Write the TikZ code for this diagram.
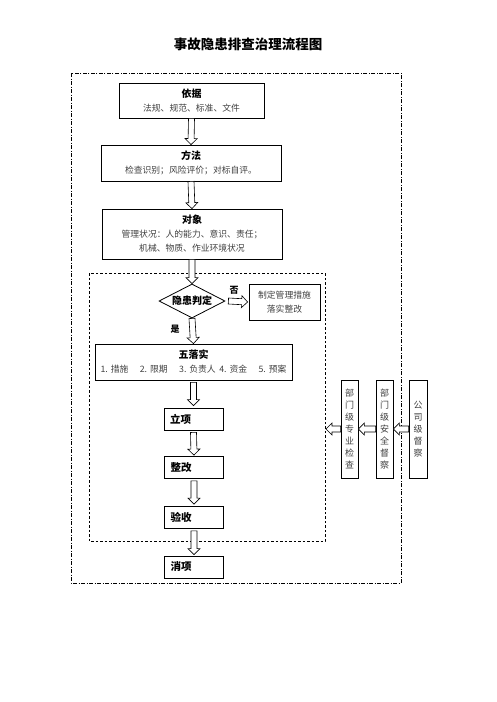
\documentclass[tikz,border=0pt]{standalone}
\usepackage{fontspec}
\setmainfont{Noto Sans CJK SC}
\usetikzlibrary{shapes.geometric,calc}

\tikzstyle{box} = [draw, line width=0.8pt, rectangle, inner sep=1pt, align=center, text=black!75, font=\fontsize{8.8}{14}\selectfont]
\tikzstyle{stepbox} = [draw, line width=0.8pt, rectangle, minimum width=59pt, minimum height=22pt, text width=47pt, inner xsep=6pt, align=left, font=\fontsize{10.5}{12}\selectfont\bfseries]
\tikzstyle{vbox} = [draw, line width=0.8pt, rectangle, minimum width=17pt, minimum height=98pt, inner sep=0pt, align=center, text=black!75, font=\fontsize{9}{12}\selectfont]
\tikzstyle{hollow} = [draw, line width=0.6pt, fill=white, line join=miter]

\newcommand{\hd}[1]{{\fontsize{10}{14}\selectfont\bfseries\color{black}#1}}
% hollow block arrow from #1 to #2
\newcommand{\hollowarrow}[2]{%
  \path (#1) coordinate (ha) (#2) coordinate (hb);
  \path ($(hb)!6pt!(ha)$) coordinate (hc);
  \draw[hollow] ($(ha)!3pt!90:(hb)$) -- ($(hc)!3pt!90:(hb)$) -- ($(hc)!6pt!90:(hb)$) -- (hb)
    -- ($(hc)!6pt!-90:(hb)$) -- ($(hc)!3pt!-90:(hb)$) -- ($(ha)!3pt!-90:(hb)$) -- cycle;}

\begin{document}
\begin{tikzpicture}[x=1pt,y=-1pt]
\useasboundingbox (0,0) rectangle (496,702);
%frames
\draw[line width=0.8pt, dash pattern=on 4pt off 1.5pt on 1pt off 1.5pt] (71,73) rectangle (401,583);% outer
\draw[line width=0.8pt, dash pattern=on 2.5pt off 2pt] (89,273) rectangle (325,541);% inner
\coordinate (innerE) at (326,429);

\node[font=\fontsize{13.5}{16}\selectfont\bfseries] (title) at (248,44) {事故隐患排查治理流程图};

\node[box, minimum width=145pt, minimum height=35pt] (yiju) at (191.5,100.5) {\hd{依据}\\法规、规范、标准、文件};
\node[box, minimum width=180pt, minimum height=36pt] (fangfa) at (191,163) {\hd{方法}\\检查识别；风险评价；对标自评。};
\node[box, minimum width=180pt, minimum height=50pt] (duixiang) at (192,234) {\hd{对象}\\管理状况：人的能力、意识、责任；\\机械、物质、作业环境状况};
\node[draw, diamond, aspect=2, minimum width=66pt, minimum height=34pt, inner sep=0pt, line width=0.8pt, font=\fontsize{10}{12}\selectfont\bfseries] (panding) at (192,301) {隐患判定};
\node[box, minimum width=71pt, minimum height=36pt] (zhidu) at (284.5,302) {制定管理措施\\落实整改};
\node[font=\fontsize{9}{11}\selectfont\bfseries] (fou) at (234,290) {否};
\node[font=\fontsize{9}{11}\selectfont\bfseries] (shi) at (175,329) {是};
\node[box, minimum width=197pt, minimum height=36pt] (wuluoshi) at (193.5,362) {\hd{五落实}\\1.\,\,措施\hspace{1.3em}2.\,\,限期\hspace{1.3em}3.\,\,负责人\hspace{0.4em}4.\,\,资金\hspace{1.3em}5.\,\,预案};

\node[stepbox] (lixiang) at (193.5,419) {立项};
\node[stepbox] (zhenggai) at (194,467.5) {整改};
\node[stepbox] (yanshou) at (194,517.5) {验收};
\node[stepbox] (xiaoxiang) at (194,567) {消项};

\node[vbox] (zhuanye) at (349.5,429) {部\\门\\级\\专\\业\\检\\查};
\node[vbox] (anquan) at (384.5,429) {部\\门\\级\\安\\全\\督\\察};
\node[vbox, minimum width=18pt] (gongsi) at (418,429) {公\\司\\级\\督\\察};

%arrows
\hollowarrow{yiju.south}{fangfa.north}
\hollowarrow{fangfa.south}{duixiang.north}
\hollowarrow{duixiang.south}{panding.north}
\hollowarrow{$(panding.east)+(3,0)$}{$(zhidu.west)+(-1,0)$}
\hollowarrow{panding.south}{wuluoshi.north}
\hollowarrow{$(wuluoshi.south)+(0,2)$}{$(lixiang.north)+(0,-2)$}
\hollowarrow{$(lixiang.south)+(0,2)$}{$(zhenggai.north)+(0,-1)$}
\hollowarrow{$(zhenggai.south)+(0,2)$}{$(yanshou.north)+(0,-2)$}
\hollowarrow{$(yanshou.south)+(0,2)$}{$(xiaoxiang.north)+(0,-1)$}
\hollowarrow{gongsi.west}{anquan.east}
\hollowarrow{anquan.west}{zhuanye.east}
\hollowarrow{zhuanye.west}{innerE}
\end{tikzpicture}
\end{document}
